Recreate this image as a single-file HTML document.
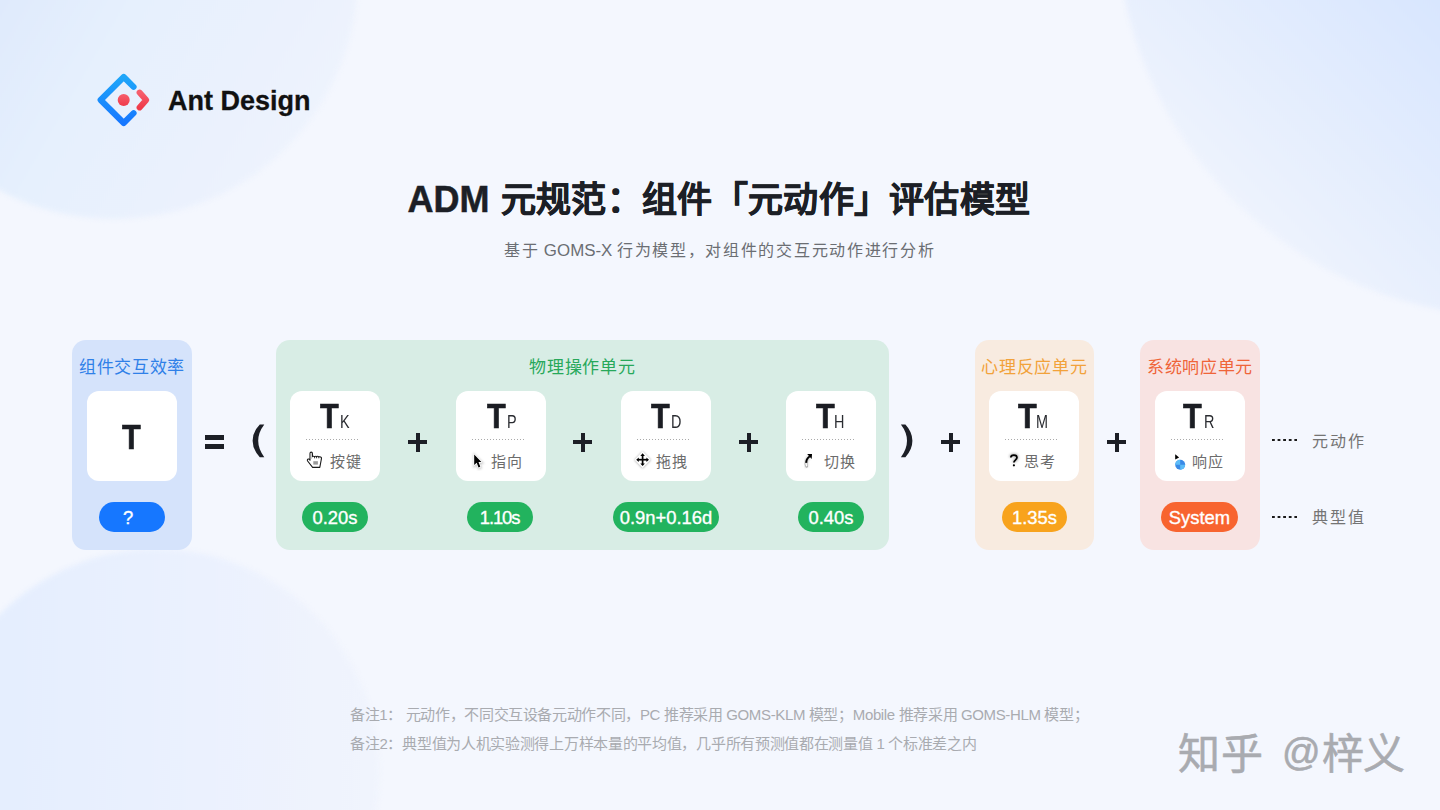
<!DOCTYPE html>
<html lang="zh-CN"><head><meta charset="utf-8">
<style>
*{margin:0;padding:0;box-sizing:border-box}
html,body{width:1440px;height:810px;overflow:hidden}
body{position:relative;background:#f4f7fe;font-family:"Liberation Sans",sans-serif;color:#1c1f26}
.a{position:absolute;white-space:nowrap}
.circ{position:absolute;border-radius:50%;filter:blur(2.5px)}
.box{position:absolute;top:340px;height:210px;border-radius:14px}
.lbl{position:absolute;top:356px;font-size:17px;line-height:24px;text-align:center;white-space:nowrap;letter-spacing:.7px;text-indent:0}
.card{position:absolute;top:391px;width:90px;height:90px;background:#fff;border-radius:12px}
.T{position:absolute;left:0;top:0;width:90px;height:50px}
.T b{position:absolute;top:4.6px;font-size:35.6px;line-height:40px;font-weight:bold;color:#1b1d23;transform:scaleX(.86);transform-origin:0 0;-webkit-text-stroke:.7px #1b1d23}
.T i{position:absolute;top:20.5px;font-style:normal;font-size:18px;line-height:20px;color:#2a2c31;transform:scaleX(.8);transform-origin:0 0}
.dots{position:absolute;top:48px;left:16px;width:54px;height:1px;background-image:linear-gradient(90deg,#aaa 50%,transparent 50%);background-size:3px 1px}
.act{position:absolute;top:60px;font-size:15px;line-height:22px;color:#6c6c6c;white-space:nowrap;letter-spacing:1px}
.ico{position:absolute;top:58px;width:22px;height:22px}
.pill{position:absolute;top:502px;height:30px;border-radius:15px;color:#fff;font-size:18.4px;line-height:31px;-webkit-text-stroke:.35px #fff;text-align:center;white-space:nowrap}
.op{position:absolute;background:#1c1f26}
.note{position:absolute;left:350px;font-size:15px;line-height:20px;color:#a9abb0;white-space:nowrap;letter-spacing:-.3px}
</style></head>
<body>
<!-- background circles -->
<div class="circ" style="left:-130px;top:-269px;width:488px;height:488px;background:linear-gradient(120deg,#dae7fc 25%,#dfeafc 37%,#e6f0fd 55%,#ebf1fd 76%,#eff4fd 92%)"></div>
<div class="circ" style="left:1116px;top:-483px;width:800px;height:800px;background:linear-gradient(225deg,#d0e2fd 45%,#d8e6fe 60%,#eef3fd 86%)"></div>
<div class="circ" style="left:-65px;top:549px;width:444px;height:444px;background:linear-gradient(90deg,#e3edfe 0%,#e5eefe 17%,#ebf1fe 60%,#eff3fd 88%,#f0f4fd 100%)"></div>
<svg width="0" height="0" style="position:absolute"><defs><filter id="blr" x="-50%" y="-50%" width="200%" height="200%"><feGaussianBlur stdDeviation="0.9"/></filter></defs></svg>
<!-- logo -->
<svg class="a" style="left:90px;top:66px" width="68" height="68" viewBox="90 66 68 68">
  <defs>
    <linearGradient id="gb" x1="0" y1="0" x2="0" y2="1"><stop offset="0" stop-color="#1fa6f9"/><stop offset="1" stop-color="#1677ff"/></linearGradient>
    <linearGradient id="gr" x1="0" y1="0" x2="0" y2="1"><stop offset="0" stop-color="#f65e6c"/><stop offset="1" stop-color="#ef3a4a"/></linearGradient>
  </defs>
  <path d="M133.6 86.8 L123.7 77 L100.6 100 L123.7 123 L133.6 113.2" fill="none" stroke="url(#gb)" stroke-width="6" stroke-linecap="round" stroke-linejoin="round"/>
  <path d="M139.6 92.6 L146.2 100 L139.6 107.4" fill="none" stroke="url(#gr)" stroke-width="6" stroke-linecap="round" stroke-linejoin="round"/>
  <circle cx="123.7" cy="100" r="6" fill="url(#gr)"/>
</svg>
<div class="a" style="left:168px;top:85px;font-size:27px;font-weight:bold;line-height:32px;color:#111;-webkit-text-stroke:.3px #111">Ant Design</div>

<!-- title -->
<div class="a" id="title" style="left:407.6px;top:177.5px;font-size:36px;font-weight:bold;line-height:44px;color:#1c1f26;-webkit-text-stroke:.5px #1c1f26">ADM</div>
<div class="a" style="left:500.9px;top:178px;font-size:35px;font-weight:bold;line-height:44px;color:#1c1f26;letter-spacing:.3px;-webkit-text-stroke:.5px #1c1f26">元规范：组件「元动作」评估模型</div>
<div class="a" id="sub" style="left:504px;top:239px;font-size:16px;line-height:24px;color:#6b6e73"><span style="letter-spacing:1.7px">基于</span> <span style="font-size:16.9px">GOMS-X</span> <span style="letter-spacing:1.7px">行为模型，对组件的交互元动作进行分析</span></div>

<!-- blue box -->
<div class="box" style="left:72px;width:120px;background:#d5e3fb"></div>
<div class="lbl" style="left:72px;width:120px;color:#2f80e8">组件交互效率</div>
<div class="card" style="left:87px"><div class="T"><b style="left:35.2px;top:25.6px">T</b></div></div>
<div class="pill" style="left:99px;width:66px;background:#1677ff"><span style="position:relative;left:-4px">?</span></div>

<!-- = ( -->
<div class="op" style="left:205px;top:435px;width:19px;height:4.5px"></div>
<div class="op" style="left:205px;top:444px;width:19px;height:4.5px"></div>
<svg class="a" style="left:240px;top:415px" width="40" height="50" viewBox="240 415 40 50"><path d="M259.8 424.5 L264.3 424.5 Q258.2 432.5 258.2 440.8 Q258.2 449 264.3 457.2 L259.8 457.2 Q252.6 449.5 252.6 440.8 Q252.6 432 259.8 424.5 Z" fill="#1c1f26"/></svg>

<!-- green box -->
<div class="box" style="left:276px;width:613px;background:#d8ede5"></div>
<div class="lbl" style="left:276px;width:613px;color:#27a85a">物理操作单元</div>

<div class="card" style="left:290px"><div class="T"><b style="left:30.1px">T</b><i style="left:49.8px">K</i></div><div class="dots"></div>
 <svg class="ico" style="left:14px" viewBox="0 0 22 22"><path d="M6.0 11.2 L6.0 4.6 Q6.0 3.1 7.2 3.1 Q8.4 3.1 8.4 4.6 L8.6 7.6 Q9.6 6.9 10.6 7.6 Q11.6 6.9 12.6 7.6 Q13.8 6.9 14.8 7.8 Q16.6 7.4 17.4 8.6 Q17.6 9.4 17.2 11 L15.8 18.4 L8.6 18.4 L3.6 12 Q2.9 10.8 4.2 10.1 Q5.2 9.7 6.0 11.2 Z" fill="#fff" stroke="#1a1a1a" stroke-width="1.1" stroke-linejoin="round"/><path d="M10.6 7.6 L10.6 9.3 M12.6 7.6 L12.6 9.3 M14.8 7.8 L14.8 9.3" stroke="#1a1a1a" stroke-width=".9"/><path d="M7.2 4 L7.2 10" stroke="#bbb" stroke-width="1"/><rect x="9.3" y="12.2" width="4.6" height="3.4" fill="#999"/></svg>
 <div class="act" style="left:40px">按键</div></div>
<div class="card" style="left:456px"><div class="T"><b style="left:31.3px">T</b><i style="left:50.8px">P</i></div><div class="dots"></div>
 <svg class="ico" style="left:12px" viewBox="0 0 22 22"><path d="M6.2 5.6 L6.2 16 L8.7 13.7 L10.5 18.5 L12.3 17.8 L10.5 13.1 L13.4 12.9 Z" fill="#888" stroke="#888" stroke-width="2.4" filter="url(#blr)" opacity=".45" transform="translate(.3 .8)"/><path d="M6.2 5.6 L6.2 16 L8.7 13.7 L10.5 18.5 L12.3 17.8 L10.5 13.1 L13.4 12.9 Z" fill="#fff" stroke="#fff" stroke-width="1.5" stroke-linejoin="round"/><path d="M6.2 5.6 L6.2 16 L8.7 13.7 L10.5 18.5 L12.3 17.8 L10.5 13.1 L13.4 12.9 Z" fill="#000"/></svg>
 <div class="act" style="left:35px">指向</div></div>
<div class="card" style="left:621px"><div class="T"><b style="left:29.5px">T</b><i style="left:50.1px">D</i></div><div class="dots"></div>
 <svg class="ico" style="left:11px" viewBox="0 0 22 22"><path d="M10.6 2.6 L18.9 11 L10.6 19.6 L2.4 11 Z" fill="#888" filter="url(#blr)" opacity=".7"/><path d="M10.6 2.2 L18.6 10.7 L10.6 19 L2.6 10.7 Z" fill="#fff"/><rect x="9.75" y="6.4" width="1.7" height="8.6" fill="#000"/><rect x="6.2" y="9.85" width="8.8" height="1.7" fill="#000"/><path d="M10.6 4.3 L12.9 6.9 L8.3 6.9 Z M10.6 17.1 L12.9 14.5 L8.3 14.5 Z M4.2 10.7 L6.8 8.4 L6.8 13 Z M17 10.7 L14.4 8.4 L14.4 13 Z" fill="#000"/></svg>
 <div class="act" style="left:35px">拖拽</div></div>
<div class="card" style="left:786px"><div class="T"><b style="left:29.9px">T</b><i style="left:47.9px">H</i></div><div class="dots"></div>
 <svg class="ico" style="left:12px" viewBox="0 0 22 22"><path d="M8.8 18 C7.4 15 7.8 11 11.4 7.6" fill="none" stroke="#999" stroke-width="3" filter="url(#blr)" opacity=".6"/><path d="M8.7 17.4 C7.8 15 8 13.6 8.4 13" fill="none" stroke="#aaa" stroke-width="2.6" stroke-linecap="round"/><path d="M8.7 17.2 C7.8 15 8 13.6 8.4 13" fill="none" stroke="#fff" stroke-width="1.3"/><path d="M8.3 13.8 C8 11.2 9.6 8.8 11.8 7.2" fill="none" stroke="#000" stroke-width="1.9"/><path d="M9.2 5.1 L14 5.1 L13.7 9.9 Z" fill="#000"/></svg>
 <div class="act" style="left:38px">切换</div></div>

<div class="pill" style="left:302px;width:66px;background:#22b35e">0.20s</div>
<div class="pill" style="left:467px;width:66px;background:#22b35e;letter-spacing:-1.1px;text-indent:-1px">1.10s</div>
<div class="pill" style="left:613px;width:106px;background:#22b35e">0.9n+0.16d</div>
<div class="pill" style="left:798px;width:66px;background:#22b35e">0.40s</div>

<!-- plus signs -->
<div class="op" style="left:408px;top:440px;width:19px;height:4px"></div><div class="op" style="left:415.5px;top:432.5px;width:4px;height:19px"></div>
<div class="op" style="left:573px;top:440px;width:19px;height:4px"></div><div class="op" style="left:580.5px;top:432.5px;width:4px;height:19px"></div>
<div class="op" style="left:739px;top:440px;width:19px;height:4px"></div><div class="op" style="left:746.5px;top:432.5px;width:4px;height:19px"></div>

<!-- ) + -->
<svg class="a" style="left:890px;top:415px" width="40" height="50" viewBox="890 415 40 50"><path d="M905.4 424.5 L900.9 424.5 Q907 432.5 907 440.8 Q907 449 900.9 457.2 L905.4 457.2 Q912.4 449.5 912.4 440.8 Q912.4 432 905.4 424.5 Z" fill="#1c1f26"/></svg>
<div class="op" style="left:941px;top:440px;width:19px;height:4px"></div><div class="op" style="left:948.5px;top:432.5px;width:4px;height:19px"></div>

<!-- orange box -->
<div class="box" style="left:975px;width:119px;background:#f8ebe0"></div>
<div class="lbl" style="left:975px;width:119px;color:#f2a23a">心理反应单元</div>
<div class="card" style="left:989px"><div class="T"><b style="left:28.7px">T</b><i style="left:46.9px">M</i></div><div class="dots"></div>
 <svg class="ico" style="left:14px" viewBox="0 0 22 22"><path d="M7.8 8.6 C7.8 5.2 14 5.2 14 8.6 C14 11 10.9 11.2 10.9 13.4 M10.9 16.3 L10.9 16.4" fill="none" stroke="#999" stroke-width="3.6" filter="url(#blr)" opacity=".6"/><path d="M7.8 8.6 C7.8 5.2 14 5.2 14 8.6 C14 11 10.9 11.2 10.9 13.4" fill="none" stroke="#000" stroke-width="1.7"/><circle cx="10.9" cy="16.3" r="1.1" fill="#000"/></svg>
 <div class="act" style="left:35px">思考</div></div>
<div class="pill" style="left:1002px;width:65px;background:#f8a31d">1.35s</div>

<div class="op" style="left:1107px;top:440px;width:19px;height:4px"></div><div class="op" style="left:1114.5px;top:432.5px;width:4px;height:19px"></div>

<!-- red box -->
<div class="box" style="left:1140px;width:120px;background:#f8e3e2"></div>
<div class="lbl" style="left:1140px;width:120px;color:#ef6438">系统响应单元</div>
<div class="card" style="left:1155px"><div class="T"><b style="left:28.4px">T</b><i style="left:48.9px">R</i></div><div class="dots"></div>
 <svg class="ico" style="left:13px" viewBox="0 0 22 22"><path d="M7.2 5.2 L7.2 10.6 L11.1 8.4 Z" fill="#000"/><circle cx="12.2" cy="15.8" r="5" fill="#3a8ae6"/><path d="M12.2 15.8 L12.2 10.8 A5 5 0 0 0 7.2 15.8 Z M12.2 15.8 L12.2 20.8 A5 5 0 0 0 17.2 15.8 Z" fill="#5cbcf8"/></svg>
 <div class="act" style="left:37px">响应</div></div>
<div class="pill" style="left:1161px;width:77px;background:#f8642f">System</div>

<!-- legend -->
<div class="a" style="left:1272px;top:439px;width:25px;height:1.6px;background-image:linear-gradient(90deg,#1a1a1a 55%,transparent 55%);background-size:5.6px 1.6px"></div>
<div class="a" style="left:1312px;top:430px;font-size:16px;letter-spacing:1.9px;line-height:24px;color:#747474">元动作</div>
<div class="a" style="left:1272px;top:516px;width:25px;height:1.6px;background-image:linear-gradient(90deg,#1a1a1a 55%,transparent 55%);background-size:5.6px 1.6px"></div>
<div class="a" style="left:1312px;top:506px;font-size:16px;letter-spacing:1.9px;line-height:24px;color:#747474">典型值</div>

<!-- notes -->
<div class="note" style="top:705px;letter-spacing:-.36px">备注1： 元动作，不同交互设备元动作不同，PC 推荐采用 GOMS-KLM 模型；Mobile 推荐采用 GOMS-HLM 模型；</div>
<div class="note" style="top:734px">备注2：典型值为人机实验测得上万样本量的平均值，几乎所有预测值都在测量值 1 个标准差之内</div>

<!-- watermark -->
<div class="a" style="left:1178px;top:728px;font-size:42px;line-height:54px;color:#a9abb0;-webkit-text-stroke:.6px #a9abb0;letter-spacing:1px">知乎</div>
<div class="a" style="left:1282px;top:729px;font-size:38px;line-height:46px;color:#a9abb0;-webkit-text-stroke:.6px #a9abb0">@</div>
<div class="a" style="left:1322px;top:728px;font-size:42px;line-height:54px;color:#a9abb0;-webkit-text-stroke:.6px #a9abb0;letter-spacing:-1px">梓义</div>
</body></html>
